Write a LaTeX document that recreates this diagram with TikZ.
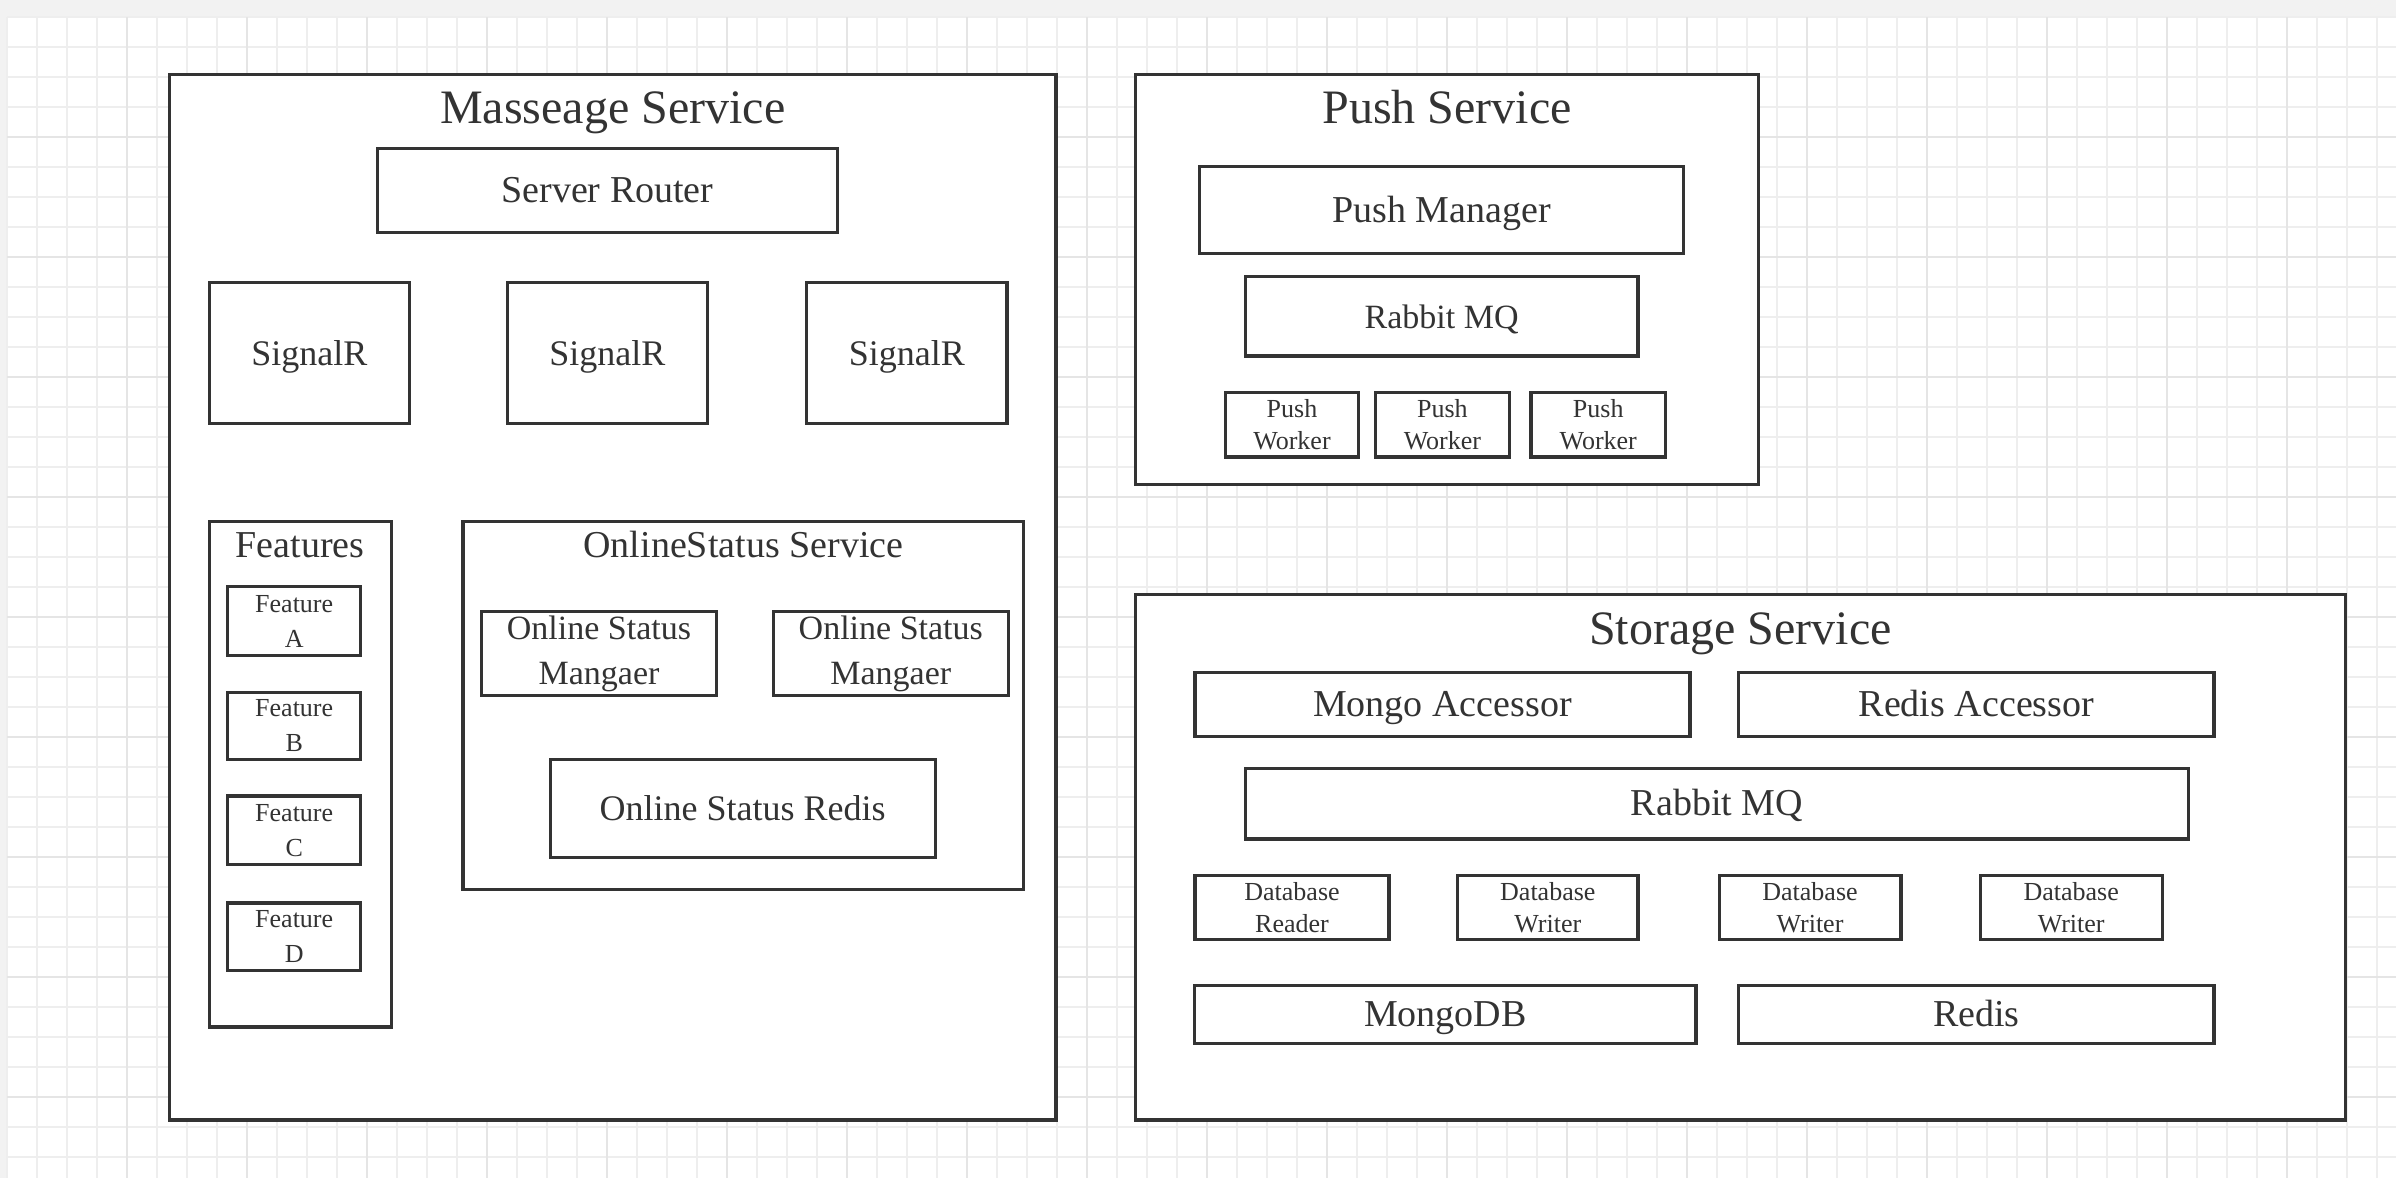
\documentclass[tikz,border=0pt]{standalone}
\usepackage{fontspec}
\setmainfont{Liberation Serif}

\definecolor{linecol}{HTML}{333333}
\definecolor{pagecol}{HTML}{F2F2F2}
\definecolor{gridcol}{HTML}{EEEEEE}
\definecolor{majorcol}{HTML}{E5E5E5}

\tikzset{
  grp/.style={draw=linecol, line width=1.6pt, fill=white},
  bigtitle/.style={anchor=base, text=linecol, font=\fontsize{24}{28}\selectfont},
  subtitle/.style={anchor=base, text=linecol, font=\fontsize{19}{22}\selectfont},
  frame/.style={draw=linecol, line width=1.6pt, fill=white, text=linecol, inner sep=1pt},
  box/.style={frame, font=\fontsize{19}{22}\selectfont, text height=14pt, text depth=2pt},
  twobox/.style={frame, align=center, font=\fontsize{17}{22.5}\selectfont},
  smallbox/.style={frame, align=center, font=\fontsize{13}{16}\selectfont},
  gridln/.style={draw=gridcol, line width=0.7pt},
  majorln/.style={draw=majorcol, line width=0.8pt}
}

\begin{document}
\begin{tikzpicture}[x=1pt, y=-1pt]
                \useasboundingbox (0,0) rectangle (1198,589);
                % page and grid
                \fill[pagecol] (0,0) rectangle (1198,589);
                \fill[white] (3.5,8.5) rectangle (1198,589);
                \foreach \gx in {0,...,79} \draw[gridln] ({3.5+15*\gx},8.5) -- ({3.5+15*\gx},589);
                \foreach \gy in {0,...,38} \draw[gridln] (3.5,{8.5+15*\gy}) -- (1198,{8.5+15*\gy});
                \foreach \gx in {4,8,...,76} \draw[majorln] ({3.5+15*\gx},8.5) -- ({3.5+15*\gx},589);
                \foreach \gy in {4,8,...,36} \draw[majorln] (3.5,{8.5+15*\gy}) -- (1198,{8.5+15*\gy});

                % message service
                \node[grp, minimum width=443.1pt, minimum height=522.6pt,
                  label={[bigtitle, yshift=-25pt]north:Masseage Service}] (msgsvc) at (306.4,298.7) {};
                \node[box, minimum width=230pt, minimum height=42pt] (router) at (303.7,95.1) {Server Router};
                \node[box, minimum width=100.1pt, minimum height=70.3pt, font=\fontsize{18}{22}\selectfont] (sigA) at (154.7,176.5) {SignalR};
                \node[box, minimum width=100.1pt, minimum height=70.3pt, font=\fontsize{18}{22}\selectfont] (sigB) at (303.7,176.5) {SignalR};
                \node[box, minimum width=100.1pt, minimum height=70.3pt, font=\fontsize{18}{22}\selectfont] (sigC) at (453.4,176.5) {SignalR};

                \node[grp, minimum width=90.9pt, minimum height=252.9pt,
                  label={[subtitle, yshift=-18.9pt]north:Features}] (features) at (150.1,387.0) {};
                \node[smallbox, minimum width=66.5pt, minimum height=34.4pt, font=\fontsize{13}{17.5}\selectfont] (featA) at (147.1,310.6) {Feature\\A};
                \node[smallbox, minimum width=66.5pt, minimum height=33.6pt, font=\fontsize{13}{17.5}\selectfont] (featB) at (147.1,362.9) {Feature\\B};
                \node[smallbox, minimum width=66.5pt, minimum height=34.4pt, font=\fontsize{13}{17.5}\selectfont] (featC) at (147.1,415.2) {Feature\\C};
                \node[smallbox, minimum width=66.5pt, minimum height=33.6pt, font=\fontsize{13}{17.5}\selectfont] (featD) at (147.1,468.3) {Feature\\D};

                \node[grp, minimum width=280.4pt, minimum height=184.1pt,
                  label={[subtitle, yshift=-18.9pt]north:OnlineStatus Service}] (onlinesvc) at (371.7,352.6) {};
                \node[twobox, minimum width=117.7pt, minimum height=42pt] (osmA) at (299.5,326.8) {Online Status\\Mangaer};
                \node[twobox, minimum width=117.7pt, minimum height=42pt] (osmB) at (445.4,326.8) {Online Status\\Mangaer};
                \node[box, minimum width=192.5pt, minimum height=48.9pt, font=\fontsize{18}{22}\selectfont] (osredis) at (371.3,404.2) {Online Status Redis};

                % push service
                \node[grp, minimum width=311.7pt, minimum height=204.8pt,
                  label={[bigtitle, yshift=-25pt]north:Push Service}] (pushsvc) at (723.5,139.8) {};
                \node[box, minimum width=242.2pt, minimum height=43.5pt] (pushmgr) at (720.8,105.1) {Push Manager};
                \node[box, minimum width=196.3pt, minimum height=39.7pt, font=\fontsize{17}{22}\selectfont] (pushmq) at (720.8,158.1) {Rabbit MQ};
                \node[smallbox, minimum width=66.5pt, minimum height=32.1pt] (workerA) at (646.0,212.4) {Push\\Worker};
                \node[smallbox, minimum width=67.2pt, minimum height=32.1pt] (workerB) at (721.2,212.4) {Push\\Worker};
                \node[smallbox, minimum width=67.2pt, minimum height=32.1pt] (workerC) at (799.1,212.4) {Push\\Worker};

                % storage service
                \node[grp, minimum width=605.1pt, minimum height=262.8pt,
                  label={[bigtitle, yshift=-25.8pt]north:Storage Service}] (storesvc) at (870.2,428.6) {};
                \node[box, minimum width=247.5pt, minimum height=32.1pt] (mongoacc) at (721.2,352.2) {Mongo Accessor};
                \node[box, minimum width=237.6pt, minimum height=32.1pt] (redisacc) at (988.2,352.2) {Redis Accessor};
                \node[box, minimum width=471.4pt, minimum height=35.1pt] (storemq) at (858.4,401.9) {Rabbit MQ};
                \node[smallbox, minimum width=97pt, minimum height=32.1pt] (dbreader) at (646.0,453.8) {Database\\Reader};
                \node[smallbox, minimum width=90.2pt, minimum height=32.1pt] (dbwriterA) at (773.9,453.8) {Database\\Writer};
                \node[smallbox, minimum width=90.9pt, minimum height=32.1pt] (dbwriterB) at (905.0,453.8) {Database\\Writer};
                \node[smallbox, minimum width=90.9pt, minimum height=32.1pt] (dbwriterC) at (1035.6,453.8) {Database\\Writer};
                \node[box, minimum width=250.6pt, minimum height=29pt] (mongodb) at (722.7,507.3) {MongoDB};
                \node[box, minimum width=237.6pt, minimum height=29pt] (redis) at (988.2,507.3) {Redis};
            \end{tikzpicture}
\end{document}
